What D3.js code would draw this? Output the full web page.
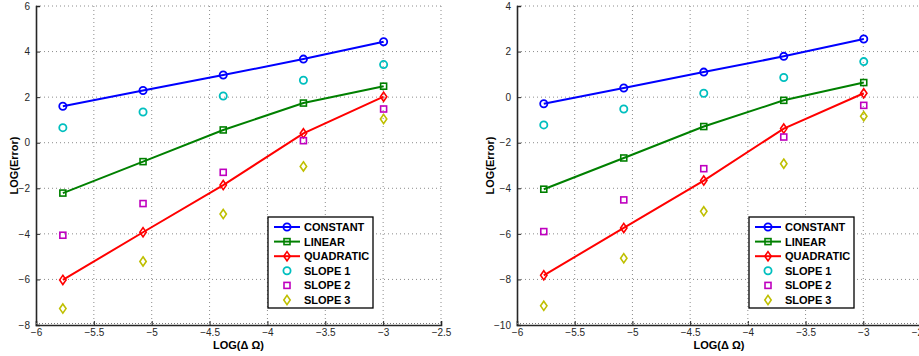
<!DOCTYPE html>
<html>
<head>
<meta charset="utf-8">
<script src="https://cdn.jsdelivr.net/npm/d3@7"></script>
<style>
  html, body { margin: 0; padding: 0; background: #fff; }
  svg { display: block; font-family: "Liberation Sans", Arial, Helvetica, sans-serif; }
</style>
</head>
<body>
<svg id="chart" width="919" height="356"></svg>
<script>
// Grid spacing (natural log of the step size)
const logStep = [-5.768, -5.075, -4.382, -3.689, -2.996];

// Left panel: error curves and reference slopes
const leftConstant  = [1.60, 2.29, 2.97, 3.67, 4.43];
const leftLinear    = [-2.21, -0.83, 0.56, 1.74, 2.48];
const leftQuadratic = [-6.02, -3.93, -1.86, 0.41, 2.02];
const leftSlope1    = [0.66, 1.35, 2.05, 2.74, 3.43];
const leftSlope2    = [-4.06, -2.67, -1.30, 0.09, 1.48];
const leftSlope3    = [-7.28, -5.21, -3.13, -1.04, 1.04];

// Right panel
const rightConstant  = [-0.29, 0.40, 1.10, 1.79, 2.55];
const rightLinear    = [-4.04, -2.67, -1.29, -0.14, 0.64];
const rightQuadratic = [-7.82, -5.74, -3.66, -1.38, 0.17];
const rightSlope1    = [-1.22, -0.52, 0.17, 0.86, 1.56];
const rightSlope2    = [-5.90, -4.51, -3.14, -1.75, -0.36];
const rightSlope3    = [-9.16, -7.07, -5.01, -2.92, -0.84];

const xTicks = [-6, -5.5, -5, -4.5, -4, -3.5, -3, -2.5];
const leftYTicks  = [-8, -6, -4, -2, 0, 2, 4, 6];
const rightYTicks = [-10, -8, -6, -4, -2, 0, 2, 4];

const seriesNames = ["CONSTANT", "LINEAR", "QUADRATIC", "SLOPE 1", "SLOPE 2", "SLOPE 3"];
const seriesColors = ["#0000ff", "#008000", "#ff0000", "#00bfbf", "#bf00bf", "#bfbf00"];
const seriesMarkers = ["circle", "square", "diamond", "circle", "square", "diamond"];
const seriesLined = [true, true, true, false, false, false];

const svg = d3.select("#chart");

function drawMarker(g, kind, color, cx, cy) {
  if (kind === "circle") {
    g.append("circle").attr("cx", cx).attr("cy", cy).attr("r", 3.6)
      .attr("fill", "none").attr("stroke", color).attr("stroke-width", 1.8);
  } else if (kind === "square") {
    g.append("rect").attr("x", cx - 3).attr("y", cy - 3).attr("width", 6).attr("height", 6)
      .attr("fill", "none").attr("stroke", color).attr("stroke-width", 1.6);
  } else {
    g.append("path")
      .attr("d", `M${cx},${cy - 4.6}L${cx + 3.2},${cy}L${cx},${cy + 4.6}L${cx - 3.2},${cy}Z`)
      .attr("fill", "none").attr("stroke", color).attr("stroke-width", 1.6);
  }
}

function panel(opts) {
  const { x0, x1, y0, y1, yDomain, yTicks, series, legendX, yLabelX } = opts;
  const x = d3.scaleLinear().domain([-6, -2.5]).range([x0, x1]);
  const y = d3.scaleLinear().domain(yDomain).range([y1, y0]);
  const g = svg.append("g");

  // dotted grid
  const grid = g.append("g").attr("stroke", "#8c8c8c").attr("stroke-width", 1)
    .attr("stroke-dasharray", "1,3");
  xTicks.slice(1).forEach(t => {
    grid.append("line").attr("x1", x(t)).attr("x2", x(t)).attr("y1", y0).attr("y2", y1);
  });
  yTicks.slice(1).forEach(t => {
    grid.append("line").attr("x1", x0).attr("x2", x1).attr("y1", y(t)).attr("y2", y(t));
  });

  // axes with inward ticks
  const xAxis = d3.axisBottom(x).tickValues(xTicks).tickSize(-4).tickPadding(4)
    .tickFormat(d => d3.format("")(d).replace("-", "\u2212"));
  const gx = g.append("g").attr("transform", `translate(0,${y1})`).call(xAxis);
  const yAxis = d3.axisLeft(y).tickValues(yTicks).tickSize(-4).tickPadding(6)
    .tickFormat(d => d3.format("")(d).replace("-", "\u2212"));
  const gy = g.append("g").attr("transform", `translate(${x0},0)`).call(yAxis);
  [gx, gy].forEach(a => {
    a.select(".domain").attr("stroke", "#262626").attr("stroke-width", 1.6);
    a.selectAll(".tick line").attr("stroke", "#262626");
    a.selectAll(".tick text").attr("fill", "#262626").style("font-size", "10px")
      .style("font-family", "'Liberation Sans', Arial, sans-serif");
  });
  // fine hatching along the bottom axis
  g.append("line").attr("x1", x0).attr("x2", x1).attr("y1", y1 - 1.5).attr("y2", y1 - 1.5)
    .attr("stroke", "#7a7a7a").attr("stroke-width", 1).attr("stroke-dasharray", "1,2");

  // series
  const line = d3.line().x((d, i) => x(logStep[i])).y(d => y(d));
  series.forEach((vals, k) => {
    if (seriesLined[k]) {
      g.append("path").datum(vals).attr("d", line).attr("fill", "none")
        .attr("stroke", seriesColors[k]).attr("stroke-width", 2);
    }
    vals.forEach((v, i) => drawMarker(g, seriesMarkers[k], seriesColors[k], x(logStep[i]), y(v)));
  });

  // axis titles
  g.append("text").attr("x", (x0 + x1) / 2).attr("y", 349).attr("text-anchor", "middle")
    .style("font-size", "11px").style("font-weight", "bold").attr("fill", "#000")
    .text("LOG(\u0394 \u03A9)");
  g.append("text").attr("transform", `translate(${yLabelX},${(y0 + y1) / 2}) rotate(-90)`)
    .attr("text-anchor", "middle").style("font-size", "11px").style("font-weight", "bold")
    .attr("fill", "#000").text("LOG(Error)");

  // legend
  const lg = g.append("g");
  const ly = 217, lh = 91, lw = 105;
  lg.append("rect").attr("x", legendX).attr("y", ly).attr("width", lw).attr("height", lh)
    .attr("fill", "#fff").attr("stroke", "#000").attr("stroke-width", 1.3);
  seriesNames.forEach((name, k) => {
    const ry = ly + 10 + k * 14.6;
    if (seriesLined[k]) {
      lg.append("line").attr("x1", legendX + 6).attr("x2", legendX + 32).attr("y1", ry).attr("y2", ry)
        .attr("stroke", seriesColors[k]).attr("stroke-width", 2);
    }
    drawMarker(lg, seriesMarkers[k], seriesColors[k], legendX + 19, ry);
    lg.append("text").attr("x", legendX + 36).attr("y", ry + 4)
      .style("font-size", "11px").style("font-weight", "bold").attr("fill", "#000").text(name);
  });
}

panel({
  x0: 36, x1: 441, y0: 6, y1: 325, yDomain: [-8, 6], yTicks: leftYTicks,
  series: [leftConstant, leftLinear, leftQuadratic, leftSlope1, leftSlope2, leftSlope3],
  legendX: 268, yLabelX: 18
});
panel({
  x0: 517, x1: 921, y0: 6, y1: 325, yDomain: [-10, 4], yTicks: rightYTicks,
  series: [rightConstant, rightLinear, rightQuadratic, rightSlope1, rightSlope2, rightSlope3],
  legendX: 749, yLabelX: 494
});
</script>
</body>
</html>
